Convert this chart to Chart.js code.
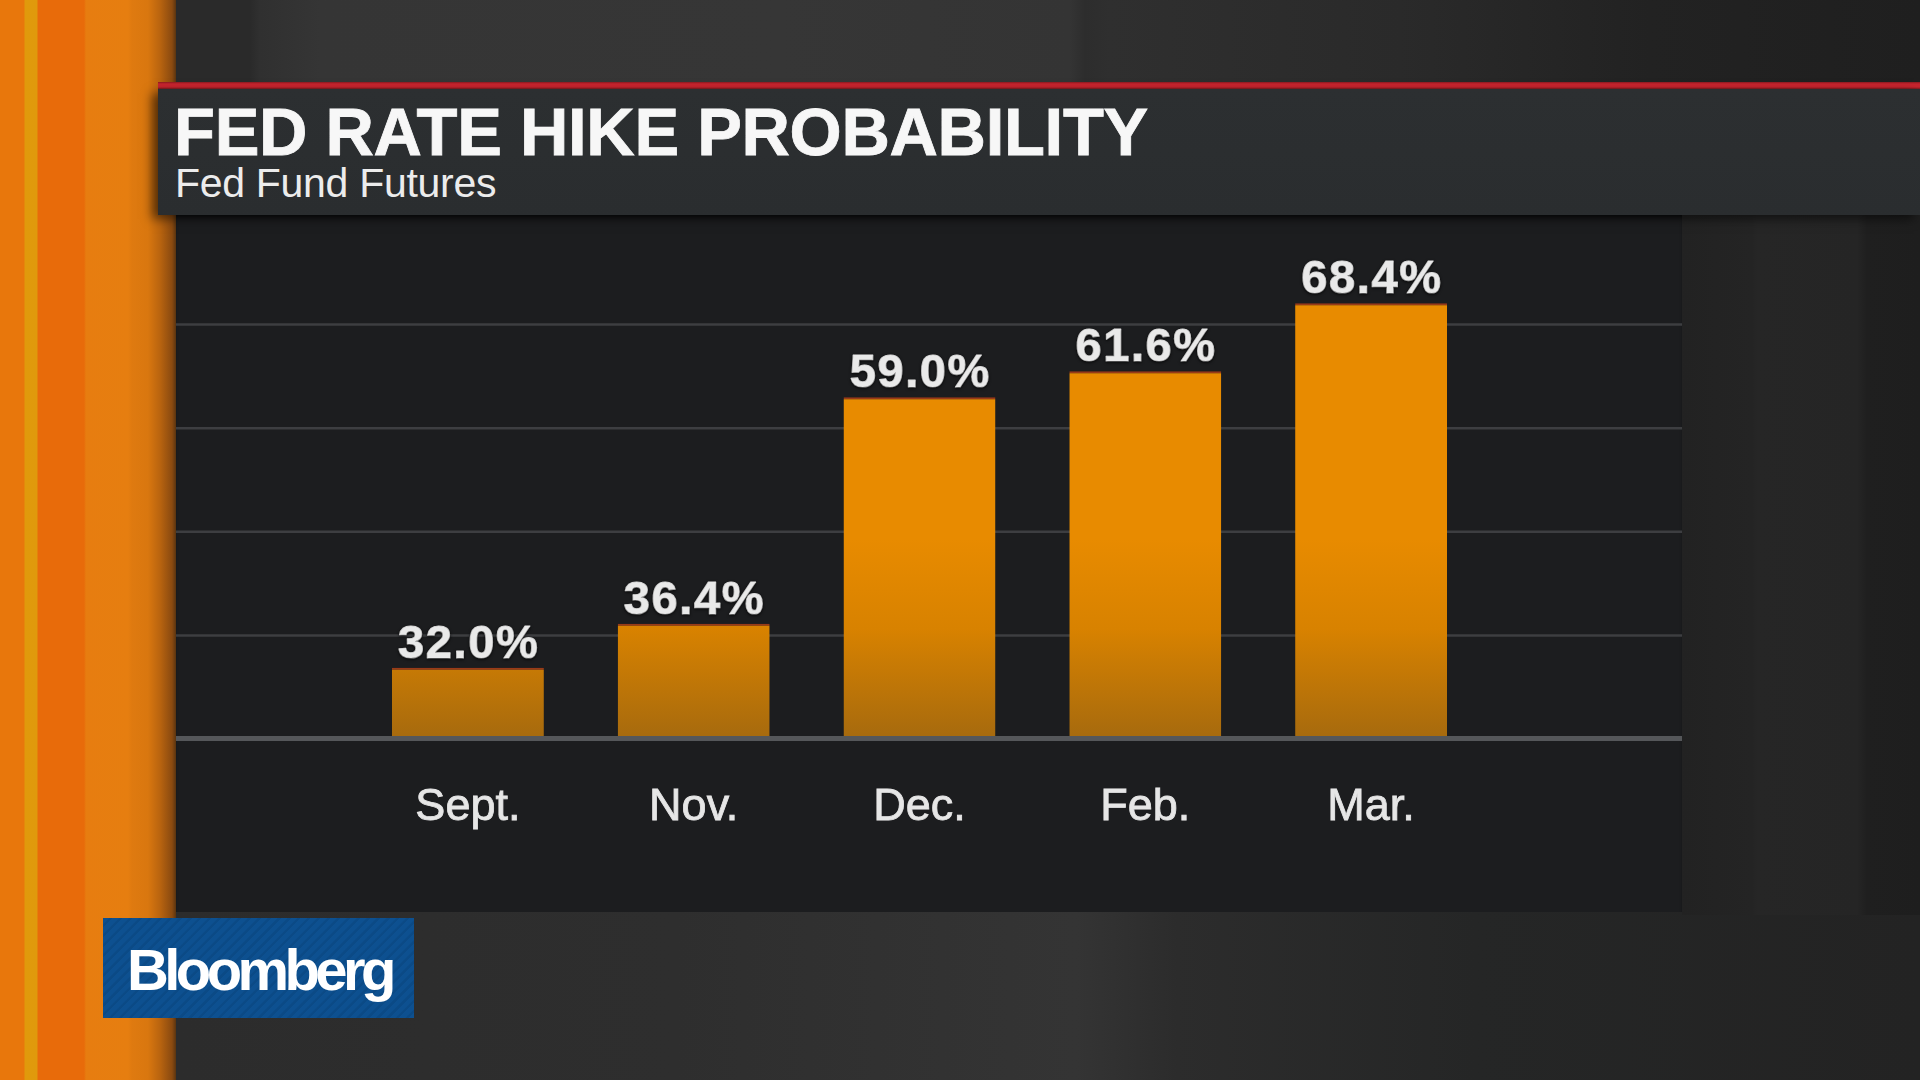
<!DOCTYPE html>
<html>
<head>
<meta charset="utf-8">
<script src="https://cdn.jsdelivr.net/npm/chart.js@4/dist/chart.umd.min.js"></script>
<style>
  html, body { margin:0; padding:0; }
  body {
    width:1920px; height:1080px; overflow:hidden; position:relative;
    font-family:"Liberation Sans", Arial, sans-serif;
    background:
      linear-gradient(90deg, #2a2a2a 0px, #2a2a2a 250px, #303030 260px, #353535 320px, #363636 780px, #343434 1070px, #2d2d2d 1085px, #2f2f2f 1110px, #2a2a2a 1400px, #222222 1650px, #1f1f1f 1920px);
  }
  #bottomBg {
    position:absolute; left:176px; top:912px; width:1744px; height:168px;
    background: linear-gradient(90deg, #2c2c2c 0px, #2e2e2e 500px, #343434 900px, #2c2c2c 1000px, #252626 1300px, #232323 1744px);
  }
  #rightBg {
    position:absolute; left:1682px; top:215px; width:238px; height:700px;
    background: linear-gradient(90deg, #222222 0px, #242424 70px, #262626 75px, #252525 175px, #1f1f1f 185px, #1e1e1e 238px);
  }
  #strip {
    position:absolute; left:0; top:0; width:176px; height:1080px;
    background: linear-gradient(90deg,
      #e8770c 0px, #e8770c 24px, #e09a0c 25px, #e0990c 37px, #e86b0a 38px, #e86b0a 84px,
      #e77d10 86px, #e67e10 128px, #df7a10 132px, #d9770f 148px, #b9640f 160px, #8a4a10 172px, #5a3410 176px);
  }
  #redline {
    position:absolute; left:158px; top:82px; width:1762px; height:7px;
    background: linear-gradient(180deg, #8a1a20 0px, #c8242e 2px, #c8242e 5px, #7a1a1e 7px);
  }
  #band {
    position:absolute; left:158px; top:89px; width:1762px; height:126px;
    background: linear-gradient(180deg, #2c2f31 0px, #2a2d2f 126px);
    box-shadow: -6px 4px 10px rgba(0,0,0,0.55);
  }
  #title {
    position:absolute; left:174px; top:98px; font-size:67px; line-height:67px;
    font-weight:bold; color:#f7f7f7; white-space:nowrap; letter-spacing:-0.3px;
    -webkit-text-stroke: 0.8px #f7f7f7;
  }
  #sub {
    position:absolute; left:175px; top:163px; font-size:41px; line-height:41px;
    color:#ececec; white-space:nowrap; letter-spacing:-0.3px;
  }
  #panel {
    position:absolute; left:176px; top:215px; width:1506px; height:697px;
    background:#1c1d1f;
    box-shadow: inset 0 4px 4px -2px rgba(0,0,0,0.6);
  }
  #c { position:absolute; left:0; top:0; }
  #logo {
    position:absolute; left:103px; top:918px; width:311px; height:100px;
    background: repeating-linear-gradient(135deg, #0d5090 0px, #0d5090 4px, #0b4a86 5px, #0b4a86 7px);
  }
  #logoText {
    position:absolute; left:127px; top:941px; font-size:58px; line-height:58px;
    font-weight:bold; color:#ffffff; letter-spacing:-4.6px; white-space:nowrap;
  }
</style>
</head>
<body>
<div id="bottomBg"></div>
<div id="rightBg"></div>
<div id="strip"></div>
<div id="panel"></div>
<div id="redline"></div>
<div id="band"></div>
<div id="title">FED RATE HIKE PROBABILITY</div>
<div id="sub">Fed Fund Futures</div>
<canvas id="c" width="1920" height="1080"></canvas>
<div id="logo"></div>
<div id="logoText">Bloomberg</div>

<script>
// ---- data ----
const categories = ["Sept.", "Nov.", "Dec.", "Feb.", "Mar."];
const probabilities = [32.0, 36.4, 59.0, 61.6, 68.4];
const yMin = 24.9;
const yMax = 76.6;
const gridDivisions = 5;

// ---- plugins ----
const panelLeft = 176, panelRight = 1682;

const gridPlugin = {
  id: 'panelGrid',
  beforeDatasetsDraw(chart) {
    const y = chart.scales.y;
    const ctx = chart.ctx;
    ctx.save();
    ctx.strokeStyle = '#3d3e41';
    ctx.lineWidth = 2.5;
    y.ticks.forEach(t => {
      if (t.value <= yMin + 1e-6 || t.value >= yMax - 1e-6) return;
      const py = y.getPixelForValue(t.value);
      ctx.beginPath();
      ctx.moveTo(panelLeft, py);
      ctx.lineTo(panelRight, py);
      ctx.stroke();
    });
    ctx.restore();
  },
  afterDatasetsDraw(chart) {
    const y = chart.scales.y;
    const ctx = chart.ctx;
    ctx.save();
    // baseline
    const by = y.getPixelForValue(yMin);
    ctx.strokeStyle = '#55575a';
    ctx.lineWidth = 5;
    ctx.beginPath();
    ctx.moveTo(panelLeft, by - 0.5);
    ctx.lineTo(panelRight, by - 0.5);
    ctx.stroke();
    // value labels
    const meta = chart.getDatasetMeta(0);
    ctx.font = 'bold 47px "Liberation Sans", Arial, sans-serif';
    ctx.letterSpacing = '1.6px';
    ctx.textAlign = 'center';
    ctx.textBaseline = 'alphabetic';
    ctx.fillStyle = '#e9e9e9';
    ctx.strokeStyle = '#e9e9e9';
    ctx.lineWidth = 1.2;
    ctx.lineJoin = 'round';
    ctx.shadowColor = 'rgba(0,0,0,0.7)';
    ctx.shadowBlur = 3;
    ctx.shadowOffsetY = 1;
    meta.data.forEach((bar, i) => {
      const txt = probabilities[i].toFixed(1) + '%';
      ctx.strokeText(txt, bar.x + 0.8, bar.y - 10);
      ctx.fillText(txt, bar.x + 0.8, bar.y - 10);
    });
    ctx.restore();
  }
};

const ctx = document.getElementById('c').getContext('2d');
new Chart(ctx, {
  type: 'bar',
  data: {
    labels: categories,
    datasets: [{
      data: probabilities,
      backgroundColor: (c) => {
        const ch = c.chart, a = ch.chartArea;
        if (!a) return '#e88b00';
        const g = ch.ctx.createLinearGradient(0, a.bottom - 200, 0, a.bottom);
        g.addColorStop(0, '#e88b00');
        g.addColorStop(0.45, '#d88200');
        g.addColorStop(1, '#a66a0e');
        return g;
      },
      borderColor: '#9a3a18',
      borderWidth: { top: 2, left: 0, right: 0, bottom: 0 },
      borderSkipped: false,
      barPercentage: 0.673,
      categoryPercentage: 1.0
    }]
  },
  options: {
    responsive: false,
    animation: false,
    devicePixelRatio: 1,
    layout: { padding: { left: 355, right: 436, top: 221, bottom: 221 } },
    plugins: { legend: { display: false }, tooltip: { enabled: false }, title: { display: false } },
    scales: {
      x: {
        grid: { display: false, drawTicks: false },
        border: { display: false },
        ticks: {
          color: '#e6e6e6',
          font: { family: '"Liberation Sans", Arial, sans-serif', size: 45 },
          padding: 42,
          maxRotation: 0,
          autoSkip: false,
          textStrokeColor: '#e6e6e6',
          textStrokeWidth: 0.8
        },
        afterFit: (s) => { s.height = 120; }
      },
      y: {
        display: false,
        min: yMin,
        max: yMax,
        afterBuildTicks: (s) => {
          const ticks = [];
          for (let i = 0; i <= gridDivisions; i++) ticks.push({ value: yMin + i * (yMax - yMin) / gridDivisions });
          s.ticks = ticks;
        }
      }
    }
  },
  plugins: [gridPlugin]
});
</script>
</body>
</html>
